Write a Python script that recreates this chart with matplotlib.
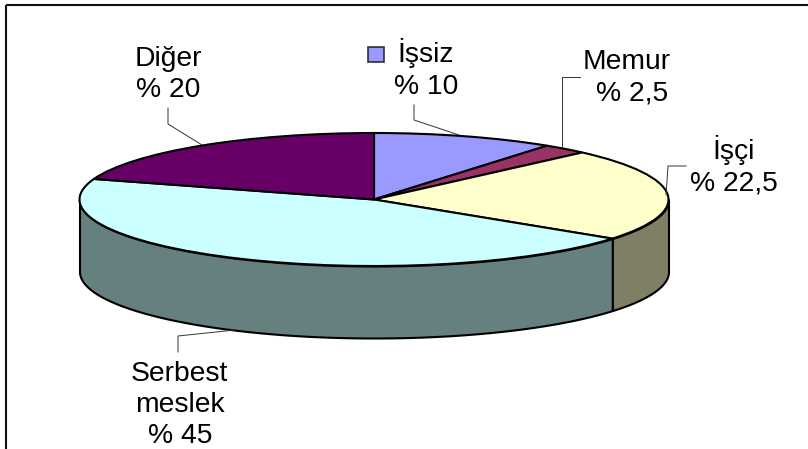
import numpy as np
import matplotlib

matplotlib.use("Agg")
import matplotlib.pyplot as plt
from matplotlib.patches import Rectangle

plt.rcParams["font.family"] = ["Liberation Sans", "DejaVu Sans"]

# slices, clockwise from the top
categories = ["İşsiz", "Memur", "İşçi", "Serbest meslek", "Diğer"]
values = [10, 2.5, 22.5, 45, 20]
top_colors = ["#9999ff", "#993366", "#ffffcc", "#ccffff", "#660066"]
wall_colors = ["#4c4c7f", "#4c1933", "#7f7f66", "#667f7f", "#330033"]

W, H = 808, 449
CX, CY, RX, RY = 374, 199.5, 294.5, 66.5
DEPTH = 72 / RY  # wall height in units of the pie radius
LW = 1.5

fig = plt.figure(figsize=(W / 100, H / 100), dpi=100)

# the pie axes are stretched so the circle comes out as the flat ellipse
ax = fig.add_axes([(CX - RX) / W, 1 - (CY + RY) / H, 2 * RX / W, 2 * RY / H])

# walls: only the front half of the rim (90..270 deg clockwise from top) shows
cum = np.concatenate([[0], np.cumsum(values)]) / sum(values) * 360
for i in range(len(values)):
    a0, a1 = max(cum[i], 90), min(cum[i + 1], 270)
    if a0 >= a1:
        continue
    t = np.radians(np.linspace(a0, a1, 200))
    ax.fill_between(np.sin(t), np.cos(t), np.cos(t) - DEPTH, color=wall_colors[i],
                    ec="black", lw=LW, clip_on=False, zorder=1)

wedges, _ = ax.pie(values, colors=top_colors, startangle=90, counterclock=False,
                   radius=1, wedgeprops={"ec": "black", "lw": LW, "zorder": 2})
ax.set_aspect("auto")
ax.set_xlim(-1, 1)
ax.set_ylim(-1, 1)

# overlay in pixel coordinates for the frame, labels and leader lines
ov = fig.add_axes([0, 0, 1, 1], zorder=5)
ov.set_xlim(0, W)
ov.set_ylim(H, 0)
ov.axis("off")
ov.patch.set_alpha(0)

ov.plot([6, 6], [H, 5], color="#111111", lw=1.5, solid_capstyle="butt")
ov.plot([6, W], [5, 5], color="#111111", lw=1.5, solid_capstyle="butt")

labels = [
    ("Diğer", 168, 66), ("% 20", 168, 97),
    ("İşsiz", 426, 62), ("% 10", 426, 94),
    ("Memur", 627, 69), ("% 2,5", 632, 101),
    ("İşçi", 734, 159), ("% 22,5", 734, 190),
    ("Serbest", 179, 381), ("meslek", 180, 412), ("% 45", 180, 443),
]
for txt, x, y in labels:
    ov.text(x, y, txt, fontsize=20.3, ha="center", va="baseline", color="black")

ov.add_patch(Rectangle((368, 47), 16, 15, fc=top_colors[0], ec="#222222", lw=1.1))

leaders = [
    ([168, 168, 202], [108, 124, 145]),
    ([414, 414, 459], [105, 120, 135]),
    ([580, 562, 562], [77, 77, 147]),
    ([686, 668, 666], [166, 166, 195]),
    ([178, 178, 235], [352, 336, 330]),
]
for xs, ys in leaders:
    ov.plot(xs, ys, color="#333333", lw=0.7)

fig.savefig("out.png", dpi=100)
